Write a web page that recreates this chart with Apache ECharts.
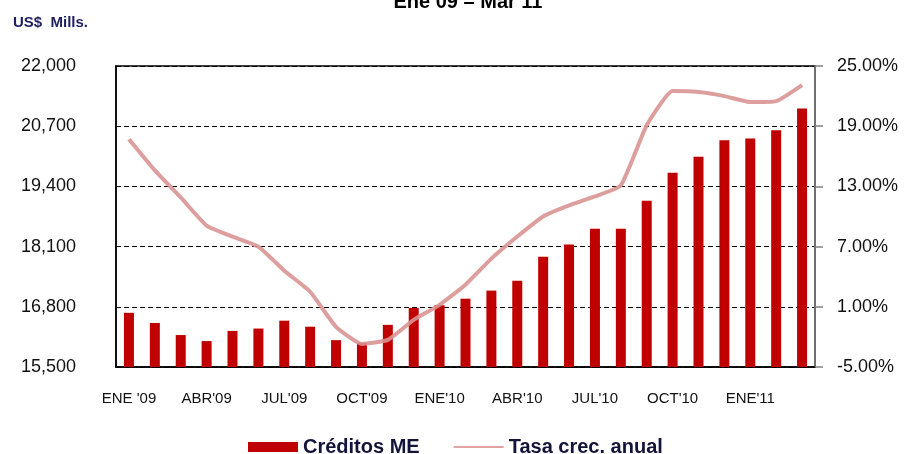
<!DOCTYPE html>
<html>
<head>
<meta charset="utf-8">
<script src="https://cdn.jsdelivr.net/npm/echarts@6/dist/echarts.min.js"></script>
<style>
  html, body { margin: 0; padding: 0; background: #fff; }
  #chart { width: 914px; height: 454px; }
</style>
</head>
<body>
<div id="chart"></div>
<script>
// meses Ene 09 - Mar 11
const months = [
  "ENE '09", 'FEB09', 'MAR09', "ABR'09", 'MAY09', 'JUN09', "JUL'09", 'AGO09', 'SET09',
  "OCT'09", 'NOV09', 'DIC09', "ENE'10", 'FEB10', 'MAR10', "ABR'10", 'MAY10', 'JUN10',
  "JUL'10", 'AGO10', 'SET10', "OCT'10", 'NOV10', 'DIC10', "ENE'11", 'FEB11', 'MAR11'
];
// Créditos ME (US$ Mills.)
const creditos = [
  16670, 16450, 16190, 16060, 16280, 16330, 16500, 16370, 16080,
  16020, 16410, 16775, 16835, 16975, 17150, 17365, 17880, 18145,
  18485, 18485, 19090, 19695, 20040, 20395, 20435, 20610, 21080
];
// Tasa crec. anual (%)
const tasa = [
  17.7, 14.6, 11.9, 9.1, 8.0, 7.0, 4.6, 2.5, -1.0,
  -2.7, -2.3, -0.3, 1.2, 3.2, 5.8, 8.0, 10.0, 11.1,
  12.0, 13.1, 19.1, 22.5, 22.4, 22.0, 21.4, 21.5, 23.1
];
const leftTicks = { min: 15500, max: 22000, step: 1300 };
const rightTicks = { min: -5, max: 25, step: 6 };

const chart = echarts.init(document.getElementById('chart'));
const font = '"Liberation Sans", Arial, sans-serif';

chart.setOption({
  animation: false,
  textStyle: { fontFamily: font },
  title: [
    {
      text: 'Ene 09 – Mar 11',
      left: 463, textAlign: 'center', top: -13,
      textStyle: { fontSize: 20, fontWeight: 'bold', color: '#000', fontFamily: font }
    },
    {
      text: 'US$  Mills.',
      left: 8, top: 10,
      textStyle: { fontSize: 15, fontWeight: 'bold', color: '#1f1f5f', fontFamily: font }
    }
  ],
  legend: {
    left: 243, top: 432,
    itemWidth: 50, itemHeight: 10, itemGap: 33,
    textStyle: { fontSize: 20, fontWeight: 'bold', color: '#14143a', fontFamily: font },
    data: [
      { name: 'Créditos ME', icon: 'rect' },
      {
        name: 'Tasa crec. anual',
        itemStyle: { opacity: 0 },
        lineStyle: { width: 2, color: '#e0a3a2', opacity: 1 }
      }
    ]
  },
  grid: {
    left: 116, right: 99, top: 66, bottom: 87,
    show: true, borderColor: '#000', borderWidth: 1.5
  },
  xAxis: {
    type: 'category',
    data: months,
    axisLine: { onZero: false, lineStyle: { color: '#000', width: 1.5 } },
    axisTick: { show: false },
    axisLabel: {
      interval: 2, margin: 24,
      fontSize: 15, color: '#111', fontFamily: font
    }
  },
  yAxis: [
    {
      type: 'value',
      min: leftTicks.min, max: leftTicks.max, interval: leftTicks.step,
      axisLine: { show: true, lineStyle: { color: '#000', width: 1.5 } },
      axisTick: { show: false },
      axisLabel: {
        margin: 40, fontSize: 18, color: '#111', fontFamily: font,
        formatter: v => v.toLocaleString('en-US')
      },
      splitLine: { lineStyle: { color: '#000', type: [5, 3], width: 1 } }
    },
    {
      type: 'value',
      min: rightTicks.min, max: rightTicks.max, interval: rightTicks.step,
      axisLine: { show: true, lineStyle: { color: '#808080', width: 1.5 } },
      axisTick: { show: true, length: 8, lineStyle: { color: '#808080', width: 1.5 } },
      axisLabel: {
        margin: 22, fontSize: 18, color: '#111', fontFamily: font,
        formatter: v => v.toFixed(2) + '%'
      },
      splitLine: { show: false }
    }
  ],
  series: [
    {
      name: 'Créditos ME',
      type: 'bar',
      yAxisIndex: 0,
      barWidth: 10,
      itemStyle: { color: '#c00000' },
      data: creditos
    },
    {
      name: 'Tasa crec. anual',
      type: 'line',
      yAxisIndex: 1,
      symbol: 'none',
      smooth: 0.15,
      itemStyle: { color: '#d99594' },
      lineStyle: { color: '#d99594', width: 4, opacity: 0.9 },
      data: tasa
    }
  ]
});
</script>
</body>
</html>
